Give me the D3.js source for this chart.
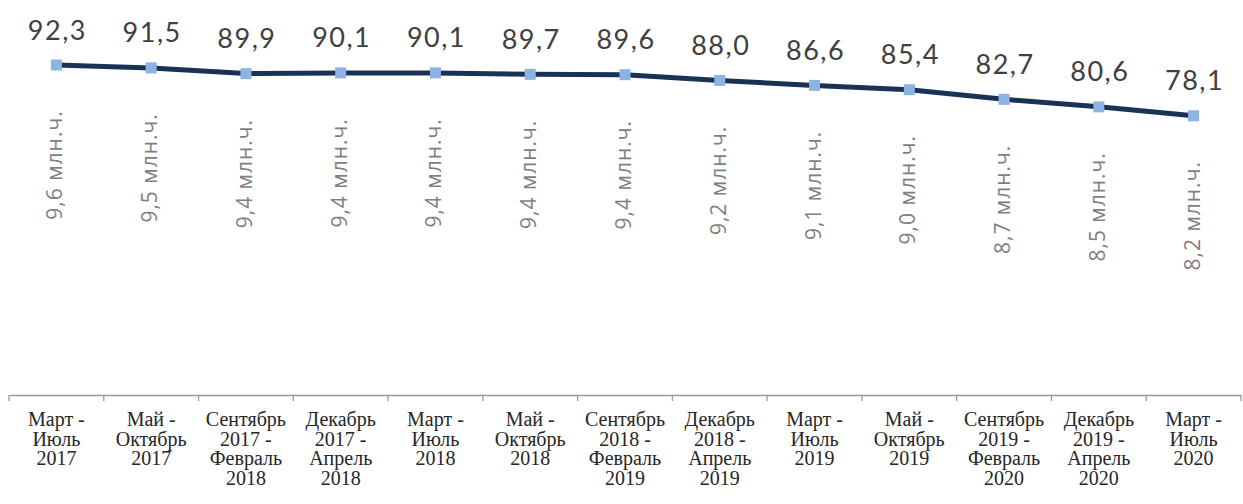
<!DOCTYPE html>
<html lang="ru">
<head>
<meta charset="utf-8">
<script src="https://cdn.jsdelivr.net/npm/d3@7"></script>
<style>
  html, body { margin: 0; padding: 0; background: #ffffff; }
  svg { display: block; }
</style>
</head>
<body>
<svg id="chart" width="1243" height="504"></svg>
<script>
// Periods (each label split into its printed lines)
const periods = [
  ["Март -", "Июль", "2017"],
  ["Май -", "Октябрь", "2017"],
  ["Сентябрь", "2017 -", "Февраль", "2018"],
  ["Декабрь", "2017 -", "Апрель", "2018"],
  ["Март -", "Июль", "2018"],
  ["Май -", "Октябрь", "2018"],
  ["Сентябрь", "2018 -", "Февраль", "2019"],
  ["Декабрь", "2018 -", "Апрель", "2019"],
  ["Март -", "Июль", "2019"],
  ["Май -", "Октябрь", "2019"],
  ["Сентябрь", "2019 -", "Февраль", "2020"],
  ["Декабрь", "2019 -", "Апрель", "2020"],
  ["Март -", "Июль", "2020"]
];

// Plotted values
const shareValues = [92.3, 91.5, 89.9, 90.1, 90.1, 89.7, 89.6, 88.0, 86.6, 85.4, 82.7, 80.6, 78.1];

// Volumes, million people
const volumeValues = [9.6, 9.5, 9.4, 9.4, 9.4, 9.4, 9.4, 9.2, 9.1, 9.0, 8.7, 8.5, 8.2];
const volumeUnit = "млн.ч.";

const svg = d3.select("#chart");

const keys = periods.map((p, i) => i);
const x = d3.scaleBand().domain(keys).range([9, 1241]).padding(0);
const y = d3.scaleLinear().domain([0, 100]).range([395, 37.5]);

const commaFmt = v => d3.format(".1f")(v).replace(".", ",");

// Category axis along the bottom
const axis = d3.axisBottom(x)
  .tickSize(0)
  .tickFormat("");
const axisG = svg.append("g")
  .attr("transform", `translate(0,${y(0)})`)
  .call(axis);
axisG.select(".domain").attr("stroke", "#9a9a9a").attr("stroke-width", 1.3);

// Tick marks at band boundaries
const boundaries = keys.map(k => x(k)).concat([x.range()[1]]);
axisG.selectAll("line.sep")
  .data(boundaries)
  .join("line")
  .attr("class", "sep")
  .attr("x1", d => d).attr("x2", d => d)
  .attr("y1", 0).attr("y2", 6)
  .attr("stroke", "#9a9a9a")
  .attr("stroke-width", 1.3);

// Multi-line period labels
const catG = svg.append("g")
  .attr("font-family", "'Liberation Serif', 'Times New Roman', serif")
  .attr("font-size", 20)
  .attr("fill", "#262626")
  .attr("text-anchor", "middle");
catG.selectAll("text")
  .data(periods)
  .join("text")
  .attr("x", (d, i) => x(i) + x.bandwidth() / 2)
  .attr("y", y(0) + 31)
  .selectAll("tspan")
  .data(d => d)
  .join("tspan")
  .attr("x", function () { return d3.select(this.parentNode).attr("x"); })
  .attr("dy", (d, j) => j === 0 ? 0 : 19.7)
  .text(d => d);

// Series line
const cx = i => x(i) + x.bandwidth() / 2;
const line = d3.line()
  .x((d, i) => cx(i))
  .y(d => y(d));
svg.append("path")
  .datum(shareValues)
  .attr("d", line)
  .attr("fill", "none")
  .attr("stroke", "#1b3258")
  .attr("stroke-width", 5)
  .attr("stroke-linejoin", "round");

// Square markers
const ms = 11;
svg.append("g")
  .selectAll("rect")
  .data(shareValues)
  .join("rect")
  .attr("x", (d, i) => cx(i) - ms / 2)
  .attr("y", d => y(d) - ms / 2)
  .attr("width", ms)
  .attr("height", ms)
  .attr("fill", "#8db3e2");

// Value labels above the markers
svg.append("g")
  .attr("font-family", "Lato, 'Open Sans', sans-serif")
  .attr("font-size", 27)
  .attr("letter-spacing", 1.5)
  .attr("fill", "#404040")
  .attr("text-anchor", "middle")
  .selectAll("text")
  .data(shareValues)
  .join("text")
  .attr("x", (d, i) => cx(i) + 1)
  .attr("y", d => y(d) - 36)
  .attr("dominant-baseline", "central")
  .text(d => commaFmt(d));

// Rotated volume labels below the markers
svg.append("g")
  .attr("font-family", "'Open Sans', sans-serif")
  .attr("font-size", 21)
  .attr("letter-spacing", 1)
  .attr("fill", "#7f7f7f")
  .attr("text-anchor", "middle")
  .selectAll("text")
  .data(volumeValues)
  .join("text")
  .attr("transform", (d, i) => `translate(${cx(i) - 2},${y(shareValues[i]) + 100}) rotate(-90)`)
  .attr("dominant-baseline", "central")
  .text(d => `${commaFmt(d)} ${volumeUnit}`);
</script>
</body>
</html>
